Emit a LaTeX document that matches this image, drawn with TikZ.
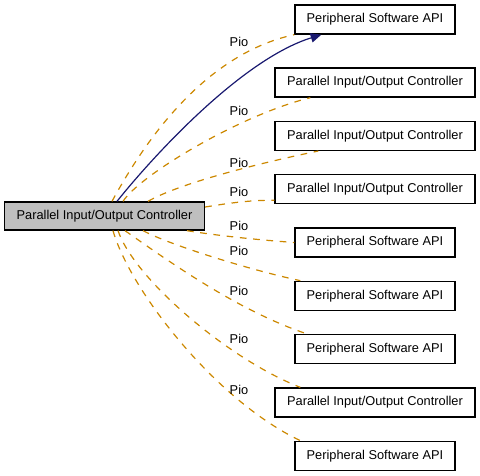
\documentclass[tikz,border=0pt]{standalone}
\usepackage{fontspec}
\setmainfont{Liberation Sans}
\usepackage{xcolor}
\usepackage{tikz}
\usetikzlibrary{arrows.meta,positioning,calc}

\definecolor{edgeorange}{HTML}{CC8800}
\definecolor{edgeblue}{HTML}{191970}
\definecolor{mainfill}{HTML}{BFBFBF}

\begin{document}
\begin{tikzpicture}[
    x=0.75pt, y=-0.75pt,
    node distance=17.25pt,
    baseblock/.style={draw, line width=1pt, minimum height=21.75pt,
                      inner xsep=2pt, font=\fontsize{9.6}{11}\selectfont},
    mainblock/.style={baseblock, fill=mainfill, minimum width=150pt,
                      minimum height=21pt},
    apiblock/.style={baseblock, fill=white, minimum width=120pt},
    pioblock/.style={baseblock, fill=white, minimum width=150pt},
    usearrow/.style={-{Triangle[length=8pt,width=7pt]}, line width=0.9pt,
                     edgeblue},
    pioedge/.style={dash pattern=on 5pt off 5pt, line width=0.9pt,
                    edgeorange},
    lbl/.style={font=\fontsize{9.6}{11}\selectfont, inner sep=0pt},
  ]
    \useasboundingbox (0,0) rectangle (480,476);

    % the documented module
    \node[mainblock] (main) at (104.5,216) {Parallel Input/Output Controller};

    % collaborators
    \node[apiblock] (psa1) at (375,19.5) {Peripheral Software API};
    \node[pioblock, below=24.5pt of psa1] (pioc2)
          {Parallel Input/Output Controller};
    \node[pioblock, below=of pioc2] (pioc3) {Parallel Input/Output Controller};
    \node[pioblock, below=of pioc3] (pioc4) {Parallel Input/Output Controller};
    \node[apiblock, below=of pioc4] (psa5) {Peripheral Software API};
    \node[apiblock, below=of psa5] (psa6) {Peripheral Software API};
    \node[apiblock, below=of psa6] (psa7) {Peripheral Software API};
    \node[pioblock, below=of psa7] (pioc8) {Parallel Input/Output Controller};
    \node[apiblock, below=of pioc8] (psa9) {Peripheral Software API};

    % usage
    \draw[usearrow] ($(main.north)+(12.5,0)$)
          .. controls (150,160) and (240,60) .. ($(psa1.south west)+(27,0)$);

    % Pio members
    \draw[pioedge] ($(main.north)+(7.5,0)$)
          .. controls (140,150) and (200,55) .. (psa1.south west);
    \draw[pioedge] ($(main.north)+(18.5,0)$)
          .. controls (140,175) and (240,115) .. ($(pioc2.south west)+(36,0)$);
    \draw[pioedge] ($(main.north)+(43.5,0)$)
          .. controls (180,183) and (260,163) .. ($(pioc3.south west)+(44,0)$);
    \draw[pioedge] ($(main.east)+(0,-9)$)
          .. controls (230,203) and (250,200) .. ($(pioc4.south west)+(0,-4)$);
    \draw[pioedge] ($(main.south)+(82.5,0)$)
          .. controls (220,236) and (260,240) .. (psa5.west);
    \draw[pioedge] ($(main.south)+(38.5,0)$)
          .. controls (170,245) and (250,270) .. ($(psa6.north west)+(6,0)$);
    \draw[pioedge] ($(main.south)+(20.5,0)$)
          .. controls (160,255) and (235,310) .. ($(psa7.north west)+(13,0)$);
    \draw[pioedge] ($(main.south)+(13.5,0)$)
          .. controls (135,280) and (230,360) .. ($(pioc8.north west)+(26,0)$);
    \draw[pioedge] ($(main.south)+(8.5,0)$)
          .. controls (130,290) and (215,400) .. ($(psa9.north west)+(6,0)$);

    % edge labels
    \node[lbl] (lbl1) at (239,42) {Pio};
    \node[lbl] (lbl2) at (239,111) {Pio};
    \node[lbl] (lbl3) at (239,163) {Pio};
    \node[lbl] (lbl4) at (239,192) {Pio};
    \node[lbl] (lbl5) at (239,226) {Pio};
    \node[lbl] (lbl6) at (239,251) {Pio};
    \node[lbl] (lbl7) at (239,291) {Pio};
    \node[lbl] (lbl8) at (239,339) {Pio};
    \node[lbl] (lbl9) at (239,390) {Pio};
\end{tikzpicture}
\end{document}
